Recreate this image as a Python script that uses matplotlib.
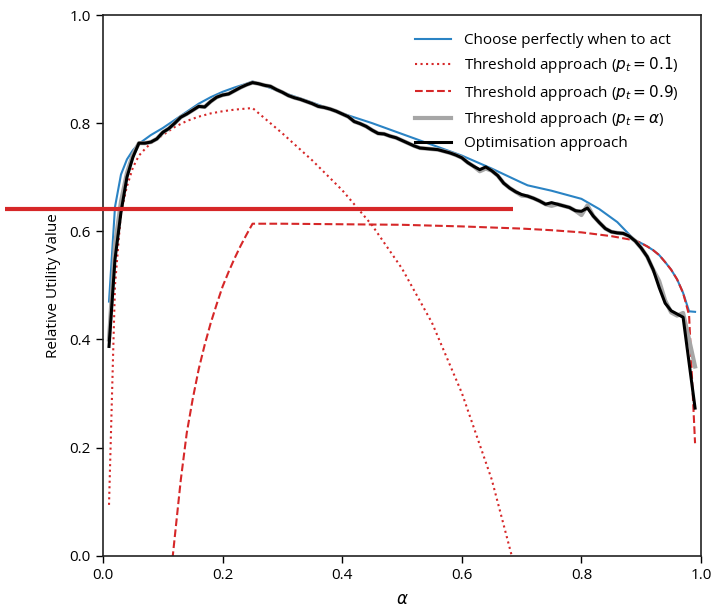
import numpy as np
import matplotlib
matplotlib.use("Agg")
import matplotlib.pyplot as plt

plt.rcParams["font.family"] = ["Open Sans", "DejaVu Sans"]
plt.rcParams["mathtext.fontset"] = "dejavusans"

# Optimisation / threshold (p_t = alpha) curves, sampled every 0.01
alpha_grid = np.round(np.arange(1, 100) / 100, 2)

optimisation = [
    0.387, 0.548, 0.635, 0.700, 0.737, 0.763, 0.763, 0.765, 0.771, 0.783,
    0.790, 0.800, 0.811, 0.817, 0.824, 0.831, 0.830, 0.840, 0.848, 0.852,
    0.854, 0.860, 0.866, 0.871, 0.875, 0.873, 0.870, 0.868, 0.862, 0.857,
    0.851, 0.847, 0.844, 0.840, 0.836, 0.831, 0.829, 0.826, 0.822, 0.817,
    0.812, 0.803, 0.799, 0.794, 0.787, 0.781, 0.780, 0.776, 0.773, 0.768,
    0.763, 0.758, 0.754, 0.753, 0.752, 0.751, 0.748, 0.745, 0.741, 0.736,
    0.727, 0.720, 0.714, 0.719, 0.712, 0.703, 0.689, 0.680, 0.673, 0.668,
    0.665, 0.661, 0.656, 0.650, 0.653, 0.650, 0.647, 0.644, 0.638, 0.637,
    0.643, 0.628, 0.616, 0.605, 0.599, 0.597, 0.596, 0.591, 0.582, 0.569,
    0.553, 0.529, 0.496, 0.467, 0.453, 0.447, 0.441, 0.357, 0.273,
]

threshold_alpha = [
    0.400, 0.575, 0.655, 0.708, 0.742, 0.763, 0.763, 0.765, 0.771, 0.783,
    0.790, 0.800, 0.811, 0.817, 0.824, 0.831, 0.830, 0.840, 0.848, 0.852,
    0.854, 0.860, 0.866, 0.871, 0.875, 0.873, 0.870, 0.868, 0.862, 0.857,
    0.851, 0.847, 0.844, 0.840, 0.836, 0.831, 0.829, 0.826, 0.822, 0.817,
    0.812, 0.803, 0.799, 0.794, 0.787, 0.781, 0.780, 0.776, 0.773, 0.768,
    0.763, 0.758, 0.754, 0.753, 0.752, 0.751, 0.748, 0.745, 0.741, 0.736,
    0.727, 0.720, 0.711, 0.716, 0.712, 0.703, 0.689, 0.680, 0.673, 0.666,
    0.665, 0.661, 0.656, 0.650, 0.647, 0.650, 0.647, 0.644, 0.638, 0.630,
    0.648, 0.628, 0.616, 0.605, 0.599, 0.597, 0.596, 0.591, 0.582, 0.569,
    0.553, 0.529, 0.508, 0.472, 0.450, 0.444, 0.449, 0.400, 0.350,
]

# Perfect-timing curve
alpha_perfect = [0.01, 0.02, 0.03, 0.04, 0.05, 0.06, 0.08, 0.10, 0.12, 0.14,
                 0.16, 0.18, 0.20, 0.22, 0.24, 0.25, 0.30, 0.35, 0.40, 0.45,
                 0.50, 0.55, 0.60, 0.65, 0.70, 0.71, 0.75, 0.80, 0.83, 0.86,
                 0.88, 0.89, 0.90, 0.91, 0.92, 0.93, 0.94, 0.95, 0.96, 0.97,
                 0.98, 0.99]
perfect = [0.470, 0.645, 0.705, 0.733, 0.750, 0.762, 0.778, 0.791, 0.806, 0.821,
           0.836, 0.848, 0.858, 0.866, 0.873, 0.877, 0.857, 0.838, 0.818, 0.800,
           0.780, 0.760, 0.740, 0.716, 0.690, 0.685, 0.675, 0.660, 0.641, 0.617,
           0.594, 0.583, 0.578, 0.572, 0.565, 0.556, 0.543, 0.529, 0.511, 0.486,
           0.452, 0.451]

# Threshold p_t = 0.1
alpha_p01 = [0.01, 0.02, 0.03, 0.04, 0.05, 0.06, 0.07, 0.08, 0.10, 0.12,
             0.14, 0.16, 0.18, 0.20, 0.22, 0.24, 0.25, 0.30, 0.35, 0.40,
             0.45, 0.50, 0.55, 0.60, 0.65, 0.70]
thr_p01 = [0.094, 0.500, 0.635, 0.683, 0.718, 0.740, 0.752, 0.763, 0.778, 0.793,
           0.804, 0.812, 0.818, 0.822, 0.825, 0.827, 0.828, 0.781, 0.731, 0.676,
           0.611, 0.531, 0.431, 0.301, 0.141, -0.070]

# Threshold p_t = 0.9
alpha_p09 = [0.10, 0.11, 0.12, 0.13, 0.14, 0.15, 0.16, 0.17, 0.18, 0.19,
             0.20, 0.21, 0.22, 0.23, 0.24, 0.25, 0.30, 0.40, 0.50, 0.60,
             0.65, 0.70, 0.75, 0.80, 0.85, 0.87, 0.89, 0.90, 0.91, 0.92,
             0.93, 0.94, 0.95, 0.96, 0.97, 0.98, 0.99]
thr_p09 = [-0.300, -0.070, 0.035, 0.140, 0.227, 0.290, 0.345, 0.390, 0.430, 0.465,
           0.498, 0.525, 0.550, 0.573, 0.594, 0.614, 0.614, 0.613, 0.612, 0.609,
           0.607, 0.605, 0.602, 0.598, 0.591, 0.587, 0.583, 0.578, 0.572, 0.565,
           0.556, 0.543, 0.529, 0.511, 0.486, 0.445, 0.208]

# Horizontal marker bar
marker_level = 0.642
marker_span = [-0.164, 0.686]

labels = [
    "Choose perfectly when to act",
    r"Threshold approach ($p_t = 0.1$)",
    r"Threshold approach ($p_t = 0.9$)",
    r"Threshold approach ($p_t = \alpha$)",
    "Optimisation approach",
]

fig = plt.figure(figsize=(7.16, 6.13), dpi=100)
ax = fig.add_axes([0.1439, 0.0935, 0.8352, 0.882])

red = "#d62728"
ax.plot(alpha_perfect, perfect, color="#2a83c4", lw=1.5, label=labels[0])
ax.plot(alpha_p01, thr_p01, color=red, lw=1.5, ls=":", label=labels[1])
ax.plot(alpha_p09, thr_p09, color=red, lw=1.5, ls="--", label=labels[2])
ax.plot(alpha_grid, threshold_alpha, color="#a6a6a6", lw=3.0, label=labels[3])
ax.plot(alpha_grid, optimisation, color="black", lw=2.2, label=labels[4])

ax.plot(marker_span, [marker_level, marker_level], color=red, lw=3.0,
        clip_on=False, solid_capstyle="butt", zorder=10)

ax.set_xlim(0, 1)
ax.set_ylim(0, 1)
ax.set_xticks(np.arange(0, 1.01, 0.2))
ax.set_yticks(np.arange(0, 1.01, 0.2))
ax.tick_params(labelsize=11, length=5, width=1, pad=4)
for s in ax.spines.values():
    s.set_linewidth(1.2)
    s.set_color("#222222")

ax.set_xlabel(r"$\alpha$", fontsize=12, labelpad=6)
ax.set_ylabel("Relative Utility Value", fontsize=11, labelpad=6)

ax.legend(loc="upper right", frameon=False, fontsize=11, handlelength=2.4,
          labelspacing=0.48, bbox_to_anchor=(0.985, 0.992))

fig.savefig("out.png", dpi=100)
